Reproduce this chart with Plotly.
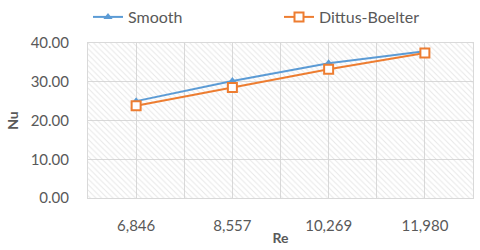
import plotly.graph_objects as go

categories = ["6,846", "8,557", "10,269", "11,980"]
smooth = [25.0, 30.2, 34.8, 37.9]
dittus = [23.8, 28.5, 33.2, 37.4]
y_ticks = [0, 10, 20, 30, 40]
y_ticklabels = ["0.00", "10.00", "20.00", "30.00", "40.00"]

xpos = list(range(len(categories)))
x_range = [-0.5, len(categories) - 0.5]
y_range = [0, 40]

blue = "#5B9BD5"
orange = "#ED7D31"
grid = "#D9D9D9"
txt = "#595959"
font = "Lato"

fig = go.Figure()

# hatched plot-area background
fig.add_trace(go.Scatter(
    x=[x_range[0], x_range[1], x_range[1], x_range[0], x_range[0]],
    y=[y_range[0], y_range[0], y_range[1], y_range[1], y_range[0]],
    mode="none", fill="toself", fillcolor="rgba(0,0,0,0)",
    fillpattern=dict(shape="\\", fgcolor="#D0D0D0", bgcolor="rgba(255,255,255,0)", size=4, solidity=0.25),
    showlegend=False, hoverinfo="skip",
))

fig.add_trace(go.Scatter(
    x=xpos, y=smooth, name="Smooth", mode="lines+markers",
    line=dict(color=blue, width=2),
    marker=dict(symbol="triangle-up", size=8, color=blue),
))
fig.add_trace(go.Scatter(
    x=xpos, y=dittus, name="Dittus-Boelter", mode="lines+markers",
    line=dict(color=orange, width=2),
    marker=dict(symbol="square", size=9, color="white", line=dict(color=orange, width=2)),
))

fig.update_layout(
    width=480, height=250,
    margin=dict(l=88, r=7, t=43, b=52, autoexpand=False),
    paper_bgcolor="white", plot_bgcolor="white",
    font=dict(family=font, color=txt, size=15),
    legend=dict(orientation="h", x=88 / 480, xanchor="left", y=1.0, yanchor="top",
                xref="container", yref="container",
                font=dict(size=16, color=txt), entrywidth=146, entrywidthmode="pixels",
                bgcolor="rgba(0,0,0,0)"),
    xaxis=dict(range=x_range, tickvals=xpos, ticktext=categories,
               showgrid=True, gridcolor=grid, gridwidth=1,
               minor=dict(tickvals=[i - 0.5 for i in range(len(categories) + 1)], showgrid=True, gridcolor=grid, gridwidth=1),
               showline=True, linecolor=grid, linewidth=1, mirror=True,
               ticks="", zeroline=False, ticklabelstandoff=14, automargin=False,
               tickfont=dict(size=15, color=txt),
               title=dict(text="<b>Re</b>", font=dict(size=14, color=txt), standoff=0)),
    yaxis=dict(range=y_range, tickvals=y_ticks, ticktext=y_ticklabels,
               showgrid=True, gridcolor=grid, gridwidth=1,
               showline=True, linecolor=grid, linewidth=1, mirror=True,
               ticks="", zeroline=False, ticklabelstandoff=15, automargin=False,
               tickfont=dict(size=15, color=txt),
               title=dict(text="<b>Nu</b>", font=dict(size=14, color=txt), standoff=8)),
)

fig.write_html("out.html", config={"displayModeBar": False},
               post_script="document.body.style.margin='0';")
